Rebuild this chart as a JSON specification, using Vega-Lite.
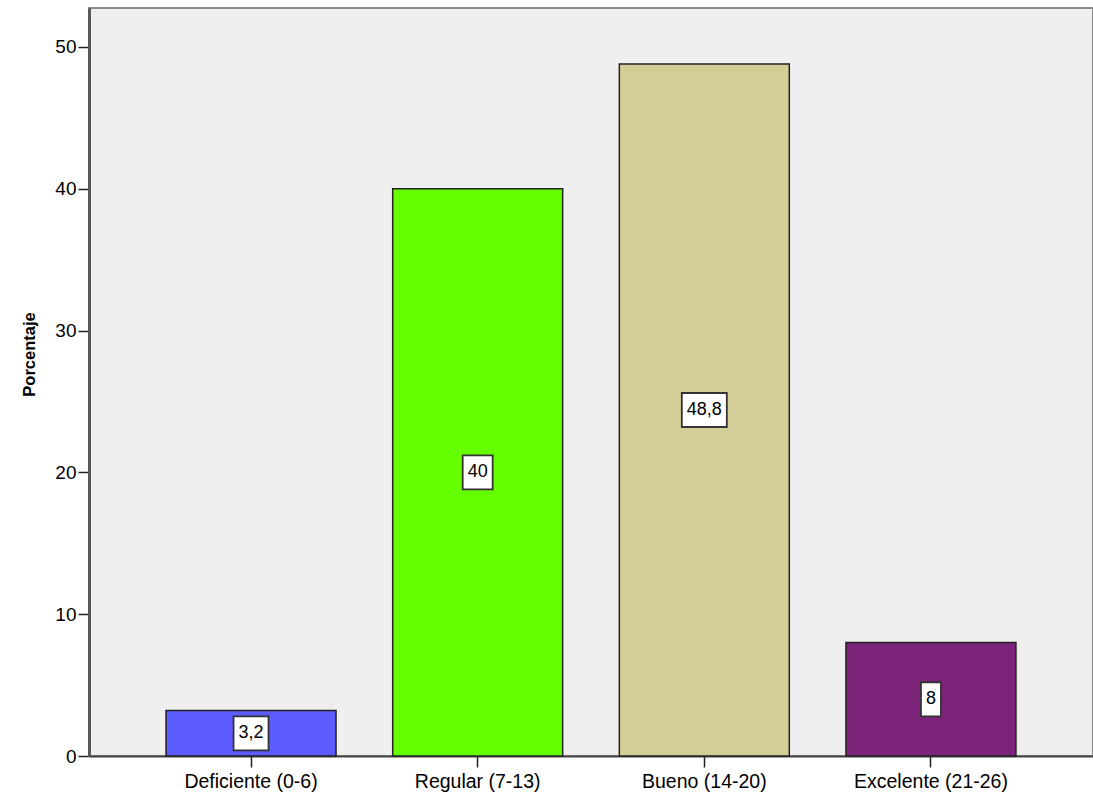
{
  "$schema": "https://vega.github.io/schema/vega-lite/v6.json",
  "width": 1004,
  "height": 748,
  "autosize": {"type": "none"},
  "padding": {"left": 89, "top": 8, "right": 0, "bottom": 38},
  "background": "white",
  "config": {
    "font": "Liberation Sans",
    "view": {"fill": "#EFEFEF", "stroke": "#8A8A8A", "strokeWidth": 2}
  },
  "data": {
    "values": [
      {"categoria": "Deficiente (0-6)", "porcentaje": 3.2, "etiqueta": "3,2"},
      {"categoria": "Regular (7-13)", "porcentaje": 40, "etiqueta": "40"},
      {"categoria": "Bueno (14-20)", "porcentaje": 48.8, "etiqueta": "48,8"},
      {"categoria": "Excelente (21-26)", "porcentaje": 8, "etiqueta": "8"}
    ]
  },
  "transform": [
    {"calculate": "datum.porcentaje / 2", "as": "mid"},
    {"calculate": "datum.mid - 1.2", "as": "lo"},
    {"calculate": "datum.mid + 1.2", "as": "hi"},
    {"calculate": "10 + 10 * length(replace(datum.etiqueta, ',', '')) + 5 * (length(datum.etiqueta) - length(replace(datum.etiqueta, ',', '')))", "as": "boxw"}
  ],
  "encoding": {
    "x": {
      "field": "categoria",
      "type": "nominal",
      "sort": null,
      "scale": {"paddingInner": 0.25, "paddingOuter": 0.34},
      "axis": {
        "title": null,
        "labelAngle": 0,
        "labelFontSize": 19.5,
        "labelColor": "#000000",
        "labelPadding": 5,
        "tickSize": 11,
        "tickColor": "#222222",
        "tickWidth": 1.5,
        "domainColor": "#444444",
        "domainWidth": 2
      }
    }
  },
  "layer": [
    {
      "mark": {"type": "bar", "stroke": "#222222", "strokeWidth": 1.5},
      "encoding": {
        "y": {
          "field": "porcentaje",
          "type": "quantitative",
          "scale": {"domain": [0, 52.75], "nice": false},
          "axis": {
            "title": "Porcentaje",
            "titleFontSize": 16.5,
            "titleFontWeight": "bold",
            "titleColor": "#000000",
            "titleX": -52,
            "titleY": 346,
            "titleAngle": 270,
            "titleBaseline": "bottom",
            "titleAlign": "center",
            "values": [0, 10, 20, 30, 40, 50],
            "labelFontSize": 19,
            "labelColor": "#000000",
            "labelPadding": 2,
            "tickSize": 11,
            "tickColor": "#222222",
            "tickWidth": 1.5,
            "domainColor": "#5A5A5A",
            "domainWidth": 3,
            "grid": false
          }
        },
        "color": {
          "field": "categoria",
          "type": "nominal",
          "sort": null,
          "scale": {
            "domain": ["Deficiente (0-6)", "Regular (7-13)", "Bueno (14-20)", "Excelente (21-26)"],
            "range": ["#5C5CFF", "#66FF00", "#D3CE97", "#7B2479"]
          },
          "legend": null
        }
      }
    },
    {
      "mark": {"type": "bar", "fill": "white", "stroke": "#333333", "strokeWidth": 1.8},
      "encoding": {
        "y": {"field": "lo", "type": "quantitative"},
        "y2": {"field": "hi"},
        "size": {"field": "boxw", "type": "quantitative", "scale": null}
      }
    },
    {
      "mark": {"type": "text", "fontSize": 18, "color": "#000000", "baseline": "middle", "align": "center"},
      "encoding": {
        "y": {"field": "mid", "type": "quantitative"},
        "text": {"field": "etiqueta"}
      }
    }
  ]
}
